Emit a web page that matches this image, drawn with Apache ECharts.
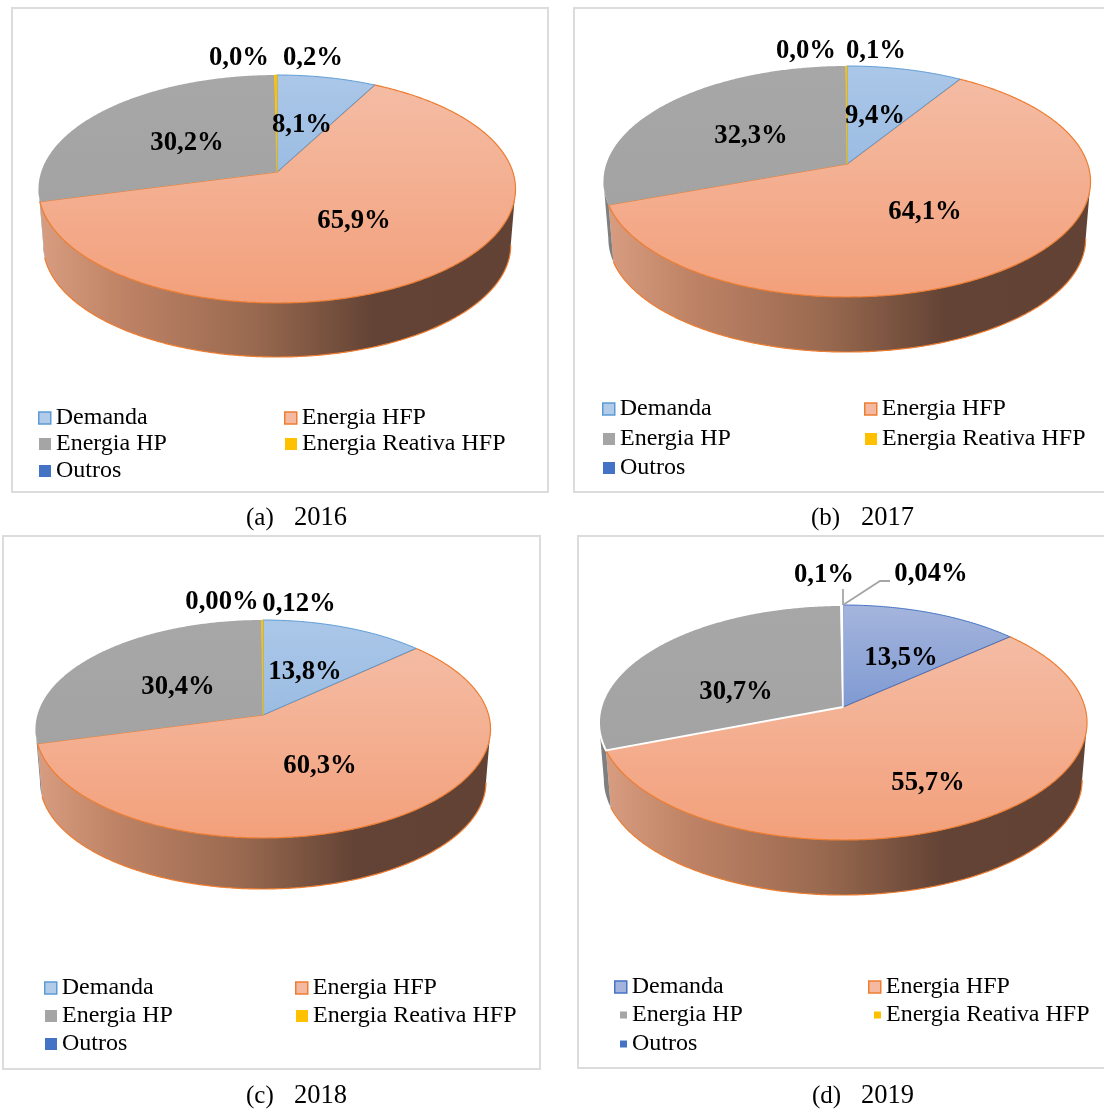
<!DOCTYPE html>
<html><head><meta charset="utf-8">
<style>html,body{margin:0;padding:0;background:#fff}#c{width:1104px;height:1109px}</style>
<script src="https://cdn.jsdelivr.net/npm/echarts@6/dist/echarts.min.js"></script>
</head><body><div id="c"></div>
<script>
const categories = ['Demanda', 'Energia HFP', 'Energia HP', 'Energia Reativa HFP', 'Outros'];
const values2016 = [8.1, 65.9, 30.2, 0.2, 0.0];
const values2017 = [9.4, 64.1, 32.3, 0.1, 0.0];
const values2018 = [13.8, 60.3, 30.4, 0.12, 0.0];
const values2019 = [13.5, 55.7, 30.7, 0.1, 0.04];
const labels2016 = ['8,1%', '65,9%', '30,2%', '0,2%', '0,0%'];
const labels2017 = ['9,4%', '64,1%', '32,3%', '0,1%', '0,0%'];
const labels2018 = ['13,8%', '60,3%', '30,4%', '0,12%', '0,00%'];
const labels2019 = ['13,5%', '55,7%', '30,7%', '0,1%', '0,04%'];
const years = ['2016', '2017', '2018', '2019'];
const captions = ['(a)', '(b)', '(c)', '(d)'];

const FONT = '"Liberation Serif"';
const panels = [
  {values: values2016, labels: labels2016, frame: [12, 8, 536, 484], cx: 277, apexY: 172, up: 97, down: 131, rx: 238.5, bottom: 357,
   labelPos: [[302, 125], [354, 221], [187, 143], [313, 58], [239, 58]],
   legendX: [39, 285], legendY: [416, 442, 469], cap: [246, 294, 518]},
  {values: values2017, labels: labels2017, frame: [574, 8, 532, 484], cx: 847, apexY: 164, up: 98, down: 133, rx: 243.5, bottom: 352,
   labelPos: [[875, 116], [925, 212], [751, 136], [876, 51], [806, 51]],
   legendX: [603, 865], legendY: [407, 437, 466], cap: [811, 861, 518]},
  {values: values2018, labels: labels2018, frame: [3, 536, 537, 533], cx: 263, apexY: 715, up: 95, down: 123, rx: 227.5, bottom: 889,
   labelPos: [[305, 672], [320, 766], [178, 687], [299, 604], [222, 602]],
   legendX: [45, 296], legendY: [986, 1014, 1042], cap: [246, 294, 1096]},
  {values: values2019, labels: labels2019, frame: [578, 536, 528, 532], cx: 843, apexY: 707, up: 102, down: 133, rx: 244, bottom: 895,
   labelPos: [[901, 658], [928, 783], [736, 692], [824, 575], [931, 574]],
   legendX: [615, 869], legendY: [985, 1013, 1042], cap: [812, 861, 1096],
   leaders: {3: [[843, 589]], 4: [[880, 581], [890, 581]]}}
];
const blue = {top: '#abc7e8', bot: '#9bbce2', line: '#5b9bd5', icon: '#b2cbe8'};
const blue19 = {top: '#a5b5dd', bot: '#7f9ad2', line: '#4472c4', icon: '#a3b4dc'};
const orange = {top: '#f4bca4', bot: '#f3a07b', line: '#ed7d31', icon: '#f5b9a1'};
const grey = '#a5a5a5', yellow = '#ffc000', dblue = '#4472c4';
const wallStops = [
  {offset: 0, color: '#d89c80'}, {offset: 0.16, color: '#c08467'}, {offset: 0.45, color: '#99694f'},
  {offset: 0.7, color: '#634335'}, {offset: 1, color: '#624234'}
];
const lin = (a, b) => ({type: 'linear', x: 0, y: 0, x2: 0, y2: 1, colorStops: [{offset: 0, color: a}, {offset: 1, color: b}]});

function project(P, deg, s, dy) {
  const p = (P.down - P.up) / (P.down + P.up);
  const A = P.up * (1 + p), B = P.rx * Math.sqrt(1 - p * p);
  const t = deg * Math.PI / 180, x = Math.sin(t), y = Math.cos(t), d = 1 + p * y;
  return [P.cx + s * B * x / d, P.apexY - s * A * y / d + dy];
}
function arc(P, a, b, s, dy) {
  const pts = [], n = Math.max(1, Math.ceil((b - a) / 0.5));
  for (let i = 0; i <= n; i++) pts.push(project(P, a + (b - a) * i / n, s, dy));
  return pts;
}
const WALL_S = 0.98;

const series = [];
panels.forEach((P, pi) => {
  const total = P.values.reduce((a, b) => a + b, 0);
  const is19 = pi === 3;
  const startOf = k => P.values.slice(0, k).reduce((a, b) => a + b, 0) / total * 360;
  categories.forEach((name, k) => {
    series.push({
      type: 'custom', name, coordinateSystem: 'none', silent: true, animation: false,
      data: [[P.values[k]]],
      renderItem: (params, api) => {
        const a0 = startOf(k), a1 = a0 + api.value(0) / total * 360;
        const children = [];
        const D = P.bottom - P.apexY - WALL_S * P.down;
        const p = (P.down - P.up) / (P.down + P.up);
        const fr0 = Math.acos(-p) * 180 / Math.PI, fr1 = 360 - fr0;
        const w0 = Math.max(a0, fr0), w1 = Math.min(a1, fr1);
        if (w1 > w0 && (k === 1 || k === 2)) {
          const top = arc(P, w0, w1, 1, 0), bot = arc(P, w0, w1, WALL_S, D);
          children.push({type: 'polygon', z2: 1, shape: {points: top.concat(bot.slice().reverse())},
            style: {fill: k === 1 ? {type: 'linear', x: 0, y: 0, x2: 1, y2: 0, colorStops: wallStops} : '#7f7f7f', lineWidth: 0}});
          if (k === 1) children.push({type: 'polyline', z2: 2, shape: {points: bot}, style: {stroke: orange.line, lineWidth: 1.2, fill: 'none'}});
        }
        const pts = [[P.cx, P.apexY]].concat(arc(P, a0, a1, 1, 0));
        const B = is19 ? blue19 : blue;
        const st = [
          {fill: lin(B.top, B.bot), stroke: B.line, lineWidth: 1},
          {fill: lin(orange.top, orange.bot), stroke: orange.line, lineWidth: 1.2},
          {fill: lin('#a7a7a7', '#a3a3a3'), stroke: is19 ? '#fff' : 'none', lineWidth: is19 ? 2 : 0},
          {fill: is19 ? '#fff' : yellow, stroke: is19 ? '#fff' : yellow, lineWidth: is19 ? 1.5 : 0.7},
          {fill: is19 ? '#fff' : dblue, stroke: 'none', lineWidth: 0}
        ][k];
        if (P.values[k] > 0) {
          children.push({type: 'polygon', z2: [5, 3, 4, 6, 6][k], shape: {points: pts}, style: st});
        }
        if (P.leaders && P.leaders[k]) {
          children.push({type: 'polyline', z2: 7, shape: {points: [project(P, 0, 1, 0)].concat(P.leaders[k])},
            style: {stroke: '#a6a6a6', lineWidth: 1.8, fill: 'none'}});
        }
        children.push({type: 'text', z2: 10, x: P.labelPos[k][0], y: P.labelPos[k][1],
          style: {text: P.labels[k], fill: '#000', font: 'bold 26.7px ' + FONT, align: 'center', verticalAlign: 'middle'}});
        return {type: 'group', children};
      }
    });
  });
});

const legends = [];
panels.forEach((P, pi) => {
  const is19 = pi === 3;
  const B = is19 ? blue19 : blue;
  const styles = [
    {color: B.icon, borderColor: B.line, borderWidth: 1.5},
    {color: orange.icon, borderColor: orange.line, borderWidth: 1.5},
    {color: grey, borderWidth: 0}, {color: yellow, borderWidth: 0}, {color: dblue, borderWidth: 0}
  ];
  categories.forEach((name, k) => {
    const small = is19 && k >= 2;
    const bordered = k < 2;
    const size = small ? 7 : 12;
    legends.push({
      show: true, orient: 'horizontal', selectedMode: false,
      left: P.legendX[k % 2] + (small ? 5 : 0) - (bordered ? 1 : 0),
      top: P.legendY[Math.floor(k / 2)] - 12,
      itemWidth: size, itemHeight: size, padding: 0,
      textStyle: {fontFamily: FONT, fontSize: 24, color: '#000', lineHeight: 28},
      data: [{name, icon: 'rect', itemStyle: styles[k]}]
    });
  });
});

const graphic = [];
panels.forEach((P, pi) => {
  const [x, y, w, h] = P.frame;
  graphic.push({type: 'rect', z: 0, silent: true, shape: {x, y, width: w, height: h}, style: {fill: '#fff', stroke: '#dcdcdc', lineWidth: 2}});
  graphic.push({type: 'text', silent: true, x: P.cap[0], y: P.cap[2], style: {text: captions[pi], fill: '#000', font: '25px ' + FONT, verticalAlign: 'middle'}});
  graphic.push({type: 'text', silent: true, x: P.cap[1], y: P.cap[2], style: {text: years[pi], fill: '#000', font: '26.5px ' + FONT, verticalAlign: 'middle'}});
});

const chart = echarts.init(document.getElementById('c'), null, {renderer: 'canvas'});
chart.setOption({animation: false, backgroundColor: '#fff', legend: legends, graphic: {elements: graphic}, series});
</script></body></html>
